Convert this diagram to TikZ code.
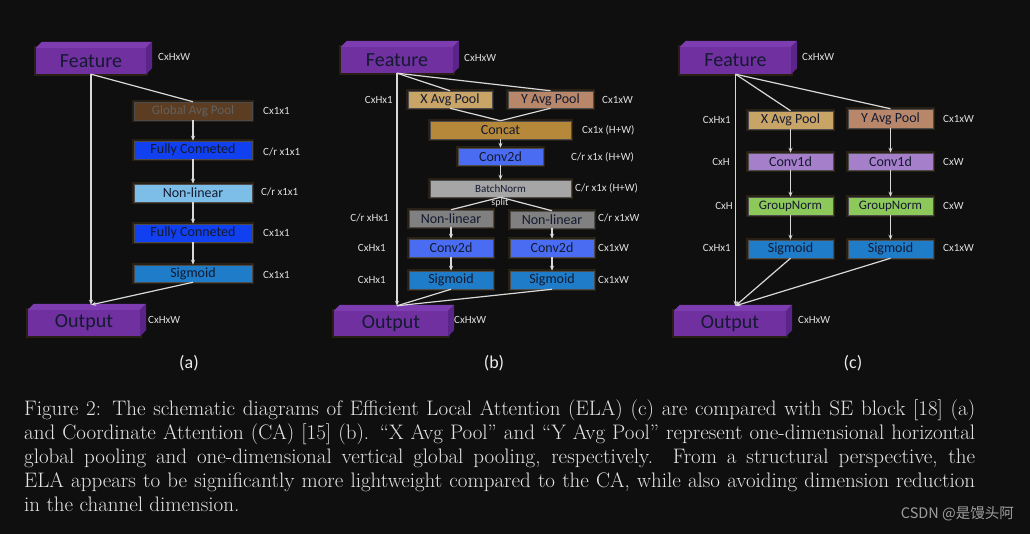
\documentclass[tikz,border=0pt]{standalone}
\usepackage{fontspec}
\newfontfamily\carl{Carlito}
\newfontfamily\cjk{Noto Sans CJK SC}
\usetikzlibrary{arrows.meta}
\definecolor{bgc}{HTML}{0F0F0F}
\definecolor{glowc}{HTML}{3A2A1A}
\definecolor{pfront}{HTML}{7030A0}
\definecolor{ptop}{HTML}{7D3DB0}
\definecolor{pside}{HTML}{5A2488}
\definecolor{linec}{HTML}{D9D9D9}
\definecolor{boxtext}{HTML}{141A30}
\definecolor{gapc}{HTML}{5C3D22}
\definecolor{fcc}{HTML}{1040F0}
\definecolor{nlc}{HTML}{7DBEE8}
\definecolor{sigc}{HTML}{1E7CC8}
\definecolor{xapc}{HTML}{C9A467}
\definecolor{yapc}{HTML}{B8876A}
\definecolor{catc}{HTML}{B5883A}
\definecolor{convc}{HTML}{4A6CF2}
\definecolor{bnc}{HTML}{A6A6A6}
\definecolor{nlgc}{HTML}{808080}
\definecolor{c1dc}{HTML}{A57FC9}
\definecolor{gnc}{HTML}{8CC85A}
\tikzset{
  glow/.style={preaction={draw=glowc, line width=4pt, opacity=0.6}},
  blk/.style={glow, draw=black!70, line width=0.5pt, inner sep=0pt},
  cubef/.style={glow, fill=pfront, inner sep=0pt, text=boxtext, font=\carl\fontsize{20}{22}\selectfont},
  lab/.style={anchor=west, inner sep=0pt, text=white!88!black, font=\carl\fontsize{11}{13}\selectfont},
  labl/.style={lab, anchor=east},
  con/.style={draw=linec, line width=1.2pt},
  arr/.style={con, -{Stealth[length=5pt,width=4pt]}},
  captext/.style={anchor=base west, inner sep=0pt, text=white!90!black, font=\fontsize{21}{24}\selectfont},
  plet/.style={inner sep=0pt, text=white!92!black, font=\carl\fontsize{18}{20}\selectfont}
}
\newcommand\bx[8]{%
  \node[blk, fill=#6, minimum width={(#4-#2)*1pt}, minimum height={(#5-#3)*1pt},
        font=\carl\fontsize{#7}{#7}\selectfont, text=boxtext] (#1) at ({(#2+#4)/2},{(#3+#5)/2}) {#8};}
\newcommand\cube[6]{%
  \node[cubef, minimum width={(#4-#2)*1pt}, minimum height={(#5-#3)*1pt}] (#1) at ({(#2+#4)/2},{(#3+#5)/2}) {#6};
  \fill[ptop] (#1.north west) -- (#1.north east) -- ++(6,-6) -- ([shift={(6,-6)}]#1.north west) -- cycle;
  \fill[pside] (#1.north east) -- (#1.south east) -- ++(6,-6) -- ([shift={(6,-6)}]#1.north east) -- cycle;}
\begin{document}
\begin{tikzpicture}[x=1pt,y=-1pt]
\fill[bgc] (0,0) rectangle (1030,534);
\useasboundingbox (0,0) rectangle (1030,534);

% ---------------- (a)
\cube{feaA}{36}{48}{146}{74}{Feature}
\node[lab] (lfeaA) at (158,57) {CxHxW};
\bx{gapA}{134}{102}{252}{120}{gapc}{13}{\textcolor{black!62}{Global Avg Pool}}
\bx{fc1A}{134}{141}{252}{159}{fcc}{14}{Fully Conneted}
\bx{nlA}{134}{184}{252}{202}{nlc}{14}{Non-linear}
\bx{fc2A}{134}{224}{252}{242}{fcc}{14}{Fully Conneted}
\bx{sigA}{134}{265}{252}{282}{sigc}{14}{Sigmoid}
\cube{outA}{28}{310}{140}{336}{Output}
\node[lab] (loutA) at (148,320) {CxHxW};
\node[lab] (lgapA) at (263,111) {Cx1x1};
\node[lab] (lfc1A) at (263,152) {C/r x1x1};
\node[lab] (lnlA) at (261,192) {C/r x1x1};
\node[lab] (lfc2A) at (263,233) {Cx1x1};
\node[lab] (lsigA) at (263,275) {Cx1x1};
\path (feaA.south |- outA.north) ++(0,-5) coordinate (oA);
\draw[arr] (feaA.south) -- (oA);
\draw[con] (feaA.south) -- (gapA.north);
\draw[arr] (gapA) -- (fc1A);
\draw[arr] (fc1A) -- (nlA);
\draw[arr] (nlA) -- (fc2A);
\draw[arr] (fc2A) -- (sigA);
\draw[arr] (sigA.south) -- (oA);
\node[plet] (pa) at (189,363) {(a)};

% ---------------- (b)
\cube{feaB}{341}{47}{453}{73}{Feature}
\node[lab] (lfeaB) at (464,58) {CxHxW};
\bx{xapB}{408}{91}{492}{108}{xapc}{14}{X Avg Pool}
\bx{yapB}{508}{91}{593}{108}{yapc}{14}{Y Avg Pool}
\bx{catB}{430}{121}{571}{139}{catc}{14}{Concat}
\bx{convB}{458}{148}{543}{165}{convc}{14}{Conv2d}
\bx{bnB}{430}{180}{571}{197}{bnc}{11}{BatchNorm}
\node[inner sep=0pt, text=white!88!black, font=\carl\fontsize{10}{12}\selectfont] (splitB) at (500,203) {split};
\bx{nlLB}{409}{210}{493}{227}{nlgc}{14}{Non-linear}
\bx{nlRB}{510}{211}{594}{228}{nlgc}{14}{Non-linear}
\bx{cvLB}{409}{239}{493}{257}{convc}{14}{Conv2d}
\bx{cvRB}{510}{239}{594}{257}{convc}{14}{Conv2d}
\bx{sgLB}{409}{271}{493}{289}{sigc}{14}{Sigmoid}
\bx{sgRB}{510}{271}{594}{289}{sigc}{14}{Sigmoid}
\cube{outB}{334}{311}{448}{336}{Output}
\node[lab] (loutB) at (454,320) {CxHxW};
\node[labl] (lxapB) at (393,100) {CxHx1};
\node[lab] (lyapB) at (602,100) {Cx1xW};
\node[lab] (lcatB) at (582,130) {Cx1x (H+W)};
\node[lab] (lconvB) at (571,157) {C/r x1x (H+W)};
\node[lab] (lbnB) at (575,188) {C/r x1x (H+W)};
\node[labl] (lnlLB) at (389,218) {C/r xHx1};
\node[lab] (lnlRB) at (598,218) {C/r x1xW};
\node[labl] (lcvLB) at (386,248) {CxHx1};
\node[lab] (lcvRB) at (598,248) {Cx1xW};
\node[labl] (lsgLB) at (386,280) {CxHx1};
\node[lab] (lsgRB) at (598,280) {Cx1xW};
\path (feaB.south |- outB.north) ++(0,-5) coordinate (oB);
\draw[arr] (feaB.south) -- (oB);
\draw[con] (feaB.south) -- (xapB.north);
\draw[con] (feaB.south) -- (yapB.north);
\draw[con] (xapB.south) -- (catB.north);
\draw[con] (yapB.south) -- (catB.north);
\draw[arr] (catB) -- (convB);
\draw[arr] (convB) -- (bnB);
\draw[con] (bnB.south) -- (nlLB.north);
\draw[con] (bnB.south) -- (nlRB.north);
\draw[arr] (nlLB) -- (cvLB);
\draw[arr] (nlRB) -- (cvRB);
\draw[arr] (cvLB) -- (sgLB);
\draw[arr] (cvRB) -- (sgRB);
\draw[con] (sgLB.south) -- (oB);
\draw[con] (sgRB.south) -- (oB);
\node[plet] (pb) at (494,363) {(b)};

% ---------------- (c)
\cube{feaC}{680}{47}{791}{74}{Feature}
\node[lab] (lfeaC) at (802,57) {CxHxW};
\bx{xapC}{748}{111}{833}{129}{xapc}{14}{X Avg Pool}
\bx{yapC}{848}{109}{933}{128}{yapc}{14}{Y Avg Pool}
\bx{c1LC}{748}{153}{833}{170}{c1dc}{14}{Conv1d}
\bx{c1RC}{848}{153}{933}{170}{c1dc}{14}{Conv1d}
\bx{gnLC}{748}{197}{833}{215}{gnc}{13}{GroupNorm}
\bx{gnRC}{848}{197}{933}{215}{gnc}{13}{GroupNorm}
\bx{sgLC}{748}{240}{833}{258}{sigc}{14}{Sigmoid}
\bx{sgRC}{848}{240}{933}{258}{sigc}{14}{Sigmoid}
\cube{outC}{674}{311}{786}{336}{Output}
\node[lab] (loutC) at (798,320) {CxHxW};
\node[labl] (lxapC) at (731,120) {CxHx1};
\node[lab] (lyapC) at (943,119) {Cx1xW};
\node[labl] (lc1LC) at (730,162) {CxH};
\node[lab] (lc1RC) at (943,162) {CxW};
\node[labl] (lgnLC) at (733,206) {CxH};
\node[lab] (lgnRC) at (943,206) {CxW};
\node[labl] (lsgLC) at (731,248) {CxHx1};
\node[lab] (lsgRC) at (943,248) {Cx1xW};
\path (feaC.south |- outC.north) ++(0,-5) coordinate (oC);
\draw[arr] (feaC.south) -- (oC);
\draw[con] (feaC.south) -- (xapC.north);
\draw[con] (feaC.south) -- (yapC.north);
\draw[arr] (xapC) -- (c1LC);
\draw[arr] (yapC) -- (c1RC);
\draw[arr] (c1LC) -- (gnLC);
\draw[arr] (c1RC) -- (gnRC);
\draw[arr] (gnLC) -- (sgLC);
\draw[arr] (gnRC) -- (sgRC);
\draw[arr] (sgLC.south) -- (oC);
\draw[arr] (sgRC.south) -- (oC);
\node[plet] (pc) at (853,363) {(c)};

% ---------------- caption
\node[captext] (cap1) at (24,415) {\makebox[951pt][s]{Figure 2: The schematic diagrams of Efficient Local Attention (ELA) (c) are compared with SE block [18] (a)}};
\node[captext] (cap2) at (24,439) {\makebox[951pt][s]{and Coordinate Attention (CA) [15] (b). “X Avg Pool” and “Y Avg Pool” represent one-dimensional horizontal}};
\node[captext] (cap3) at (24,463) {\makebox[951pt][s]{global pooling and one-dimensional vertical global pooling, respectively.\ \ From a structural perspective, the}};
\node[captext] (cap4) at (24,487) {\makebox[951pt][s]{ELA appears to be significantly more lightweight compared to the CA, while also avoiding dimension reduction}};
\node[captext] (cap5) at (24,511) {in the channel dimension.};
\node[anchor=east, inner sep=0pt, text=white!62!black, font=\cjk\fontsize{14.5}{16}\selectfont] (wm) at (1014,514) {CSDN @是馒头阿};
\end{tikzpicture}
\end{document}
